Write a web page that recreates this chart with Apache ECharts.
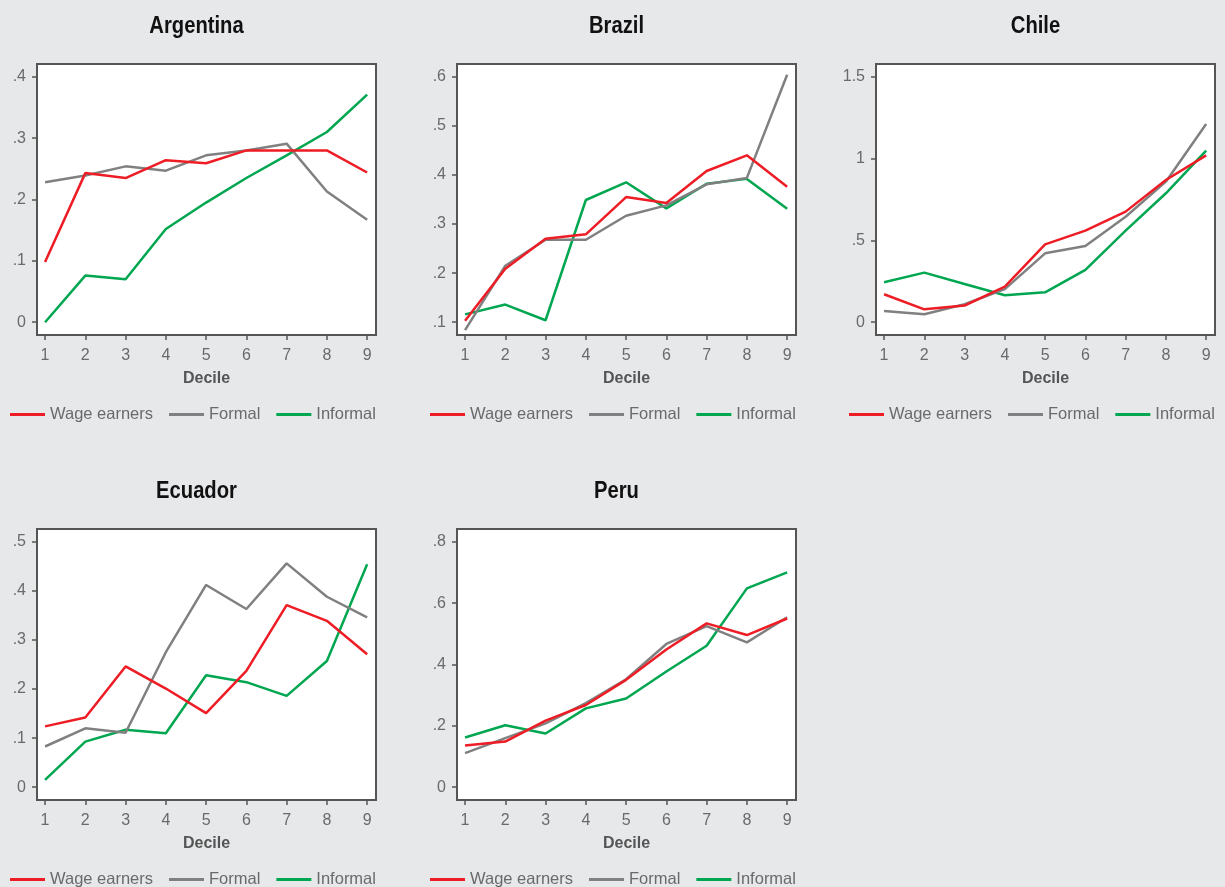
<!DOCTYPE html>
<html><head><meta charset="utf-8">
<script src="https://cdn.jsdelivr.net/npm/echarts@6/dist/echarts.min.js"></script>
<style>html,body{margin:0;padding:0;background:#e7e8ea}#c{width:1225px;height:887px}</style>
</head><body><div id="c"></div>
<script>
const countries = ['Argentina', 'Brazil', 'Chile', 'Ecuador', 'Peru'];
const deciles = [1, 2, 3, 4, 5, 6, 7, 8, 9];
const seriesNames = ['Wage earners', 'Formal', 'Informal'];

const argentinaWage     = [0.098, 0.243, 0.235, 0.264, 0.259, 0.280, 0.280, 0.280, 0.244];
const argentinaFormal   = [0.228, 0.239, 0.254, 0.247, 0.272, 0.280, 0.291, 0.213, 0.167];
const argentinaInformal = [0.000, 0.076, 0.070, 0.152, 0.195, 0.235, 0.272, 0.310, 0.371];

const brazilWage     = [0.103, 0.209, 0.270, 0.279, 0.355, 0.343, 0.408, 0.440, 0.376];
const brazilFormal   = [0.084, 0.215, 0.268, 0.268, 0.317, 0.338, 0.381, 0.394, 0.604];
const brazilInformal = [0.116, 0.136, 0.104, 0.349, 0.385, 0.332, 0.382, 0.392, 0.331];

const chileWage     = [0.171, 0.079, 0.102, 0.218, 0.476, 0.560, 0.676, 0.869, 1.020];
const chileFormal   = [0.069, 0.049, 0.110, 0.202, 0.421, 0.466, 0.645, 0.859, 1.211];
const chileInformal = [0.244, 0.303, 0.234, 0.165, 0.183, 0.320, 0.560, 0.788, 1.048];

const ecuadorWage     = [0.124, 0.142, 0.246, 0.201, 0.151, 0.237, 0.371, 0.339, 0.271];
const ecuadorFormal   = [0.083, 0.120, 0.111, 0.275, 0.412, 0.363, 0.456, 0.388, 0.346];
const ecuadorInformal = [0.015, 0.093, 0.117, 0.110, 0.228, 0.214, 0.186, 0.257, 0.454];

const peruWage     = [0.136, 0.149, 0.217, 0.268, 0.350, 0.449, 0.534, 0.496, 0.550];
const peruFormal   = [0.111, 0.160, 0.208, 0.274, 0.352, 0.467, 0.525, 0.472, 0.554];
const peruInformal = [0.162, 0.202, 0.175, 0.257, 0.289, 0.377, 0.461, 0.648, 0.700];

const argentinaTicks = [0, 0.1, 0.2, 0.3, 0.4];
const brazilTicks    = [0.1, 0.2, 0.3, 0.4, 0.5, 0.6];
const chileTicks     = [0, 0.5, 1, 1.5];
const ecuadorTicks   = [0, 0.1, 0.2, 0.3, 0.4, 0.5];
const peruTicks      = [0, 0.2, 0.4, 0.6, 0.8];

const panelData = [
  [argentinaWage, argentinaFormal, argentinaInformal],
  [brazilWage, brazilFormal, brazilInformal],
  [chileWage, chileFormal, chileInformal],
  [ecuadorWage, ecuadorFormal, ecuadorInformal],
  [peruWage, peruFormal, peruInformal]
];
const panelTicks = [argentinaTicks, brazilTicks, chileTicks, ecuadorTicks, peruTicks];

// layout
const colLeft = [37, 457, 876];
const rowTop = [64, 529];
const boxW = 339, boxH = 271;
const colors = ['#ee1c25', '#808080', '#00a650'];
const axisColor = '#555';
const labelColor = '#6a6a6a';
const font = '"Liberation Sans", Arial, sans-serif';

function fmt(v) {
  if (Math.abs(v) < 1e-9) return '0';
  return String(+v.toFixed(2)).replace(/^0\./, '.');
}

const grid = [], xAxis = [], yAxis = [], series = [], legend = [], graphic = [];
countries.forEach((c, p) => {
  const col = p % 3, row = Math.floor(p / 3);
  const left = colLeft[col], top = rowTop[row];
  const ticks = panelTicks[p];
  const t0 = ticks[0], t1 = ticks[ticks.length - 1];
  const pad = (t1 - t0) * 0.052;
  grid.push({ left: left, top: top, width: boxW, height: boxH, show: true,
    backgroundColor: '#fff', borderColor: axisColor, borderWidth: 2, containLabel: false });
  xAxis.push({ gridIndex: p, type: 'value', min: 0.8, max: 9.22, position: 'bottom',
    name: 'Decile', nameLocation: 'middle', nameGap: 36,
    nameTextStyle: { fontFamily: font, fontWeight: 'bold', fontSize: 16, color: '#555' },
    axisLine: { show: true, onZero: false, lineStyle: { color: axisColor, width: 2 } },
    axisTick: { show: true, length: 5, customValues: deciles, lineStyle: { color: axisColor, width: 1.5 } },
    axisLabel: { customValues: deciles, margin: 13, fontFamily: font, fontSize: 16, color: labelColor },
    splitLine: { show: false } });
  yAxis.push({ gridIndex: p, type: 'value', min: t0 - pad, max: t1 + pad,
    axisLine: { show: true, onZero: false, lineStyle: { color: axisColor, width: 2 } },
    axisTick: { show: true, length: 5, customValues: ticks, lineStyle: { color: axisColor, width: 1.5 } },
    axisLabel: { customValues: ticks, margin: 11, fontFamily: font, fontSize: 16, color: labelColor, formatter: fmt },
    splitLine: { show: false } });
  seriesNames.forEach((n, s) => {
    series.push({ name: n, type: 'line', xAxisIndex: p, yAxisIndex: p, symbol: 'none', showSymbol: false,
      data: deciles.map((d, i) => [d, panelData[p][s][i]]),
      lineStyle: { color: colors[s], width: 2.5 }, itemStyle: { color: colors[s] },
      z: s === 0 ? 4 : (s === 1 ? 3 : 2), silent: true, animation: false });
  });
  legend.push({ left: left - 32, top: top + boxH + 66, orient: 'horizontal',
    icon: 'rect', itemWidth: 35, itemHeight: 3, itemGap: 16, data: seriesNames,
    textStyle: { fontFamily: font, fontSize: 16.5, color: labelColor }, selectedMode: false });
  graphic.push({ type: 'text', x: left + boxW / 2 - 10, y: top - 37, scaleX: 0.86,
    style: { text: c, textAlign: 'center', textVerticalAlign: 'middle',
      font: 'bold 23.5px "Liberation Sans", Arial, sans-serif', fill: '#111' } });
});

const chart = echarts.init(document.getElementById('c'), null, { renderer: 'canvas' });
chart.setOption({ backgroundColor: '#e7e8ea', animation: false, grid, xAxis, yAxis, series, legend, graphic });
</script></body></html>
